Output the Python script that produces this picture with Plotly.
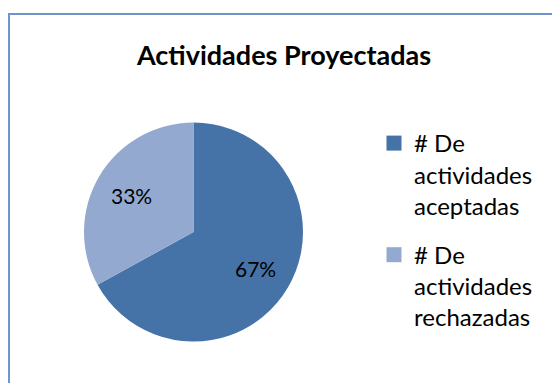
import math
import plotly.graph_objects as go

# Project activity breakdown
labels = ["# De<br>actividades<br>aceptadas", "# De<br>actividades<br>rechazadas"]
values = [67, 33]
colors = ["#4572A7", "#93A9CF"]
title_text = "Actividades Proyectadas"

W, H = 552, 383
FONT = "Lato, 'Noto Sans', sans-serif"

# pie box in pixels (left, right, top, bottom)
PX0, PX1, PY0, PY1 = 84, 303, 122, 342
cx, cy = (PX0 + PX1) / 2, (PY0 + PY1) / 2
radius = min(PX1 - PX0, PY1 - PY0) / 2

fig = go.Figure()
fig.add_trace(
    go.Pie(
        labels=labels,
        values=values,
        sort=False,
        direction="clockwise",
        rotation=0,
        marker=dict(colors=colors, line=dict(width=0)),
        textinfo="none",
        domain=dict(x=[PX0 / W, PX1 / W], y=[(H - PY1) / H, (H - PY0) / H]),
        hoverinfo="label+percent",
        showlegend=False,
    )
)

# legend entries, one per slice
for i, (lab, col) in enumerate(zip(labels, colors)):
    fig.add_trace(
        go.Scatter(
            x=[None],
            y=[None],
            mode="markers",
            name=lab,
            legendgroup=f"g{i}",
            marker=dict(symbol="square", size=15, color=col),
            hoverinfo="skip",
        )
    )

# percentage labels placed at each slice's mid-angle
total = sum(values)
annotations = []
start = 0.0
for v in values:
    mid = (start + v / 2) / total * 2 * math.pi  # clockwise from 12 o'clock
    r = 0.66 * radius
    lx = cx + r * math.sin(mid)
    ly = cy - r * math.cos(mid)
    annotations.append(
        dict(
            x=lx / W,
            y=1 - ly / H,
            xref="paper",
            yref="paper",
            text=f"{round(v / total * 100)}%",
            showarrow=False,
            font=dict(family=FONT, size=21, color="black"),
            xanchor="center",
            yanchor="middle",
        )
    )
    start += v

fig.update_layout(
    width=W,
    height=H,
    margin=dict(l=0, r=0, t=0, b=0),
    paper_bgcolor="white",
    plot_bgcolor="white",
    xaxis=dict(visible=False),
    yaxis=dict(visible=False),
    annotations=annotations,
    title=dict(
        text="<b>" + title_text + "</b>",
        x=284 / W,
        xanchor="center",
        y=1 - 56 / H,
        yanchor="middle",
        font=dict(family=FONT, size=27, color="black"),
    ),
    legend=dict(
        x=374 / W,
        y=1 - 121 / H,
        xanchor="left",
        yanchor="top",
        valign="top",
        font=dict(family=FONT, size=24, color="black"),
        itemwidth=30,
        tracegroupgap=15,
        itemclick=False,
        bgcolor="rgba(0,0,0,0)",
    ),
    shapes=[
        dict(
            type="rect",
            xref="paper",
            yref="paper",
            x0=9 / W,
            x1=1.05,
            y0=-0.05,
            y1=1 - 14 / H,
            line=dict(color="#6f93cc", width=2),
            fillcolor="rgba(0,0,0,0)",
            layer="below",
        )
    ],
)

fig.write_html("out.html")
